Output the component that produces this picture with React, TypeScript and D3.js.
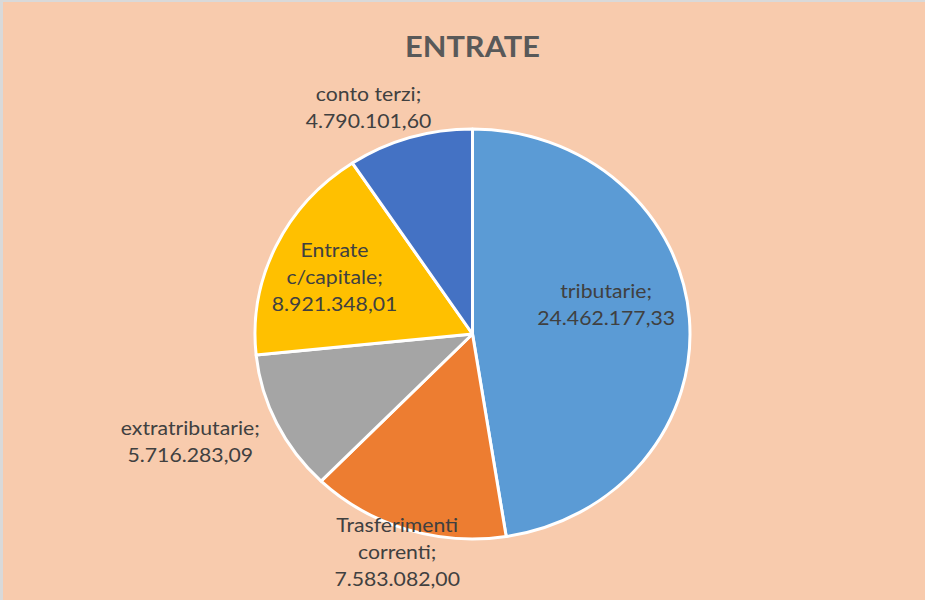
import React from "react";
import * as d3 from "d3";

const categories = ["tributarie", "Trasferimenti correnti", "extratributarie", "Entrate c/capitale", "conto terzi"];
const values = [24462177.33, 7583082.0, 5716283.09, 8921348.01, 4790101.6];
const valueLabels = ["24.462.177,33", "7.583.082,00", "5.716.283,09", "8.921.348,01", "4.790.101,60"];
const labelLines = [
  ["tributarie;"],
  ["Trasferimenti", "correnti;"],
  ["extratributarie;"],
  ["Entrate", "c/capitale;"],
  ["conto terzi;"],
];
const colors = ["#5B9BD5", "#ED7D31", "#A5A5A5", "#FFC000", "#4472C4"];
const title = "ENTRATE";

// layout (label anchor: x offset from centre in unscaled units, first baseline)
const labelPos = [
  { dx: 126, y: 298 },
  { dx: -71, y: 532 },
  { dx: -266, y: 435 },
  { dx: -130, y: 257 },
  { dx: -98, y: 101 },
];

const W = 925, H = 600;
const CX = 472.5, CY = 334, R = 205, SX = 217.5 / 205;
const LH = 27;

export default function App() {
  const pie = d3.pie<number>().sort(null).value((d) => d)(values);
  const arc = d3.arc<d3.PieArcDatum<number>>().innerRadius(0).outerRadius(R);
  return (
    <svg width={W} height={H} style={{ position: "absolute", left: 0, top: 0 }}>
      <rect x={0} y={0} width={W} height={H} fill="#F8CBAD" />
      <rect x={0} y={0} width={W} height={2} fill="#D9D9D9" />
      <rect x={0} y={0} width={3} height={H} fill="#D9D9D9" />
      <g transform={`translate(${CX},0) scale(${SX},1)`}>
        <text x={0} y={57} textAnchor="middle" fontFamily="Lato" fontWeight="bold" fontSize={29} fill="#595959">
          {title}
        </text>
        <g transform={`translate(0,${CY})`}>
          {pie.map((p, i) => (
            <path key={categories[i]} d={arc(p) || ""} fill={colors[i]} stroke="#FFFFFF" strokeWidth={3} vectorEffect="non-scaling-stroke" strokeLinejoin="round" />
          ))}
        </g>
        {labelLines.map((lines, i) => (
          <text key={i} textAnchor="middle" fontFamily="Lato" fontSize={20} fill="#404040">
            {[...lines, valueLabels[i]].map((t, j) => (
              <tspan key={j} x={labelPos[i].dx} y={labelPos[i].y + j * LH}>{t}</tspan>
            ))}
          </text>
        ))}
      </g>
    </svg>
  );
}
